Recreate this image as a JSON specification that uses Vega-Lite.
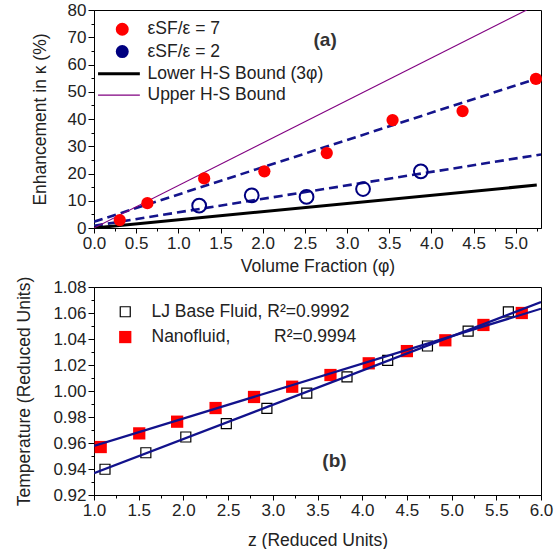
{
  "$schema": "https://vega.github.io/schema/vega-lite/v6.json",
  "padding": {"left": 15, "top": 0, "right": 5, "bottom": 0},
  "spacing": 0,
  "resolve": {
    "scale": {"color": "independent", "fill": "independent", "size": "independent", "strokeWidth": "independent"},
    "legend": {"color": "independent"}
  },
  "config": {
    "font": "Liberation Sans",
    "view": {"stroke": "#000000", "strokeWidth": 1},
    "axis": {
      "grid": false,
      "domainColor": "#000000",
      "tickColor": "#000000",
      "labelColor": "#222222",
      "titleColor": "#222222",
      "labelFont": "Liberation Sans",
      "titleFont": "Liberation Sans",
      "labelFontSize": 17,
      "titleFontSize": 17.5,
      "titleFontWeight": "normal",
      "labelFlush": false,
      "labelOverlap": false,
      "labelPadding": 2
    },
    "legend": {
      "labelFont": "Liberation Sans",
      "labelFontSize": 17.5,
      "labelColor": "#222222",
      "labelLimit": 0,
      "padding": 0
    }
  },
  "datasets": {
    "fitsA": [
      {"fit": "e7", "x": 0, "y": 2.3},
      {"fit": "e7", "x": 5.3, "y": 55.3},
      {"fit": "e2", "x": 0, "y": 0.8},
      {"fit": "e2", "x": 5.3, "y": 27.0}
    ],
    "bounds": [
      {"series": "Lower H-S Bound (3φ)", "x": 0, "y": 0},
      {"series": "Lower H-S Bound (3φ)", "x": 5.25, "y": 15.75},
      {"series": "Upper H-S Bound", "x": 0, "y": 0},
      {"series": "Upper H-S Bound", "x": 5.13, "y": 80}
    ],
    "e7": [
      {"series": "εSF/ε = 7", "x": 0.305, "y": 2.9},
      {"series": "εSF/ε = 7", "x": 0.633, "y": 9.1},
      {"series": "εSF/ε = 7", "x": 1.306, "y": 18.2},
      {"series": "εSF/ε = 7", "x": 2.02, "y": 20.8},
      {"series": "εSF/ε = 7", "x": 2.76, "y": 27.5},
      {"series": "εSF/ε = 7", "x": 3.54, "y": 39.6},
      {"series": "εSF/ε = 7", "x": 4.37, "y": 42.9},
      {"series": "εSF/ε = 7", "x": 5.24, "y": 54.7}
    ],
    "e2": [
      {"series": "εSF/ε = 2", "x": 1.247, "y": 8.2},
      {"series": "εSF/ε = 2", "x": 1.87, "y": 12.0},
      {"series": "εSF/ε = 2", "x": 2.52, "y": 11.4},
      {"series": "εSF/ε = 2", "x": 3.19, "y": 14.3},
      {"series": "εSF/ε = 2", "x": 3.875, "y": 20.8}
    ],
    "fitsB": [
      {"fit": "nano", "x": 1.0, "y": 0.9577},
      {"fit": "nano", "x": 6.0, "y": 1.0633},
      {"fit": "lj", "x": 1.0, "y": 0.9367},
      {"fit": "lj", "x": 6.0, "y": 1.0684}
    ],
    "pointsB": [
      {"series": "LJ Base Fluid, R²=0.9992", "x": 1.123, "y": 0.9398},
      {"series": "LJ Base Fluid, R²=0.9992", "x": 1.58, "y": 0.9525},
      {"series": "LJ Base Fluid, R²=0.9992", "x": 2.027, "y": 0.9646},
      {"series": "LJ Base Fluid, R²=0.9992", "x": 2.48, "y": 0.9749},
      {"series": "LJ Base Fluid, R²=0.9992", "x": 2.934, "y": 0.9867},
      {"series": "LJ Base Fluid, R²=0.9992", "x": 3.38, "y": 0.9984},
      {"series": "LJ Base Fluid, R²=0.9992", "x": 3.83, "y": 1.0108},
      {"series": "LJ Base Fluid, R²=0.9992", "x": 4.285, "y": 1.0236},
      {"series": "LJ Base Fluid, R²=0.9992", "x": 4.73, "y": 1.0346},
      {"series": "LJ Base Fluid, R²=0.9992", "x": 5.185, "y": 1.0461},
      {"series": "LJ Base Fluid, R²=0.9992", "x": 5.635, "y": 1.0608},
      {"series": "Nanofluid,\u00a0\u00a0\u00a0\u00a0\u00a0\u00a0\u00a0\u00a0\u00a0R²=0.9994", "x": 1.075, "y": 0.9569},
      {"series": "Nanofluid,\u00a0\u00a0\u00a0\u00a0\u00a0\u00a0\u00a0\u00a0\u00a0R²=0.9994", "x": 1.506, "y": 0.9674},
      {"series": "Nanofluid,\u00a0\u00a0\u00a0\u00a0\u00a0\u00a0\u00a0\u00a0\u00a0R²=0.9994", "x": 1.93, "y": 0.9764},
      {"series": "Nanofluid,\u00a0\u00a0\u00a0\u00a0\u00a0\u00a0\u00a0\u00a0\u00a0R²=0.9994", "x": 2.36, "y": 0.9869},
      {"series": "Nanofluid,\u00a0\u00a0\u00a0\u00a0\u00a0\u00a0\u00a0\u00a0\u00a0R²=0.9994", "x": 2.79, "y": 0.9954},
      {"series": "Nanofluid,\u00a0\u00a0\u00a0\u00a0\u00a0\u00a0\u00a0\u00a0\u00a0R²=0.9994", "x": 3.217, "y": 1.0033},
      {"series": "Nanofluid,\u00a0\u00a0\u00a0\u00a0\u00a0\u00a0\u00a0\u00a0\u00a0R²=0.9994", "x": 3.645, "y": 1.0123},
      {"series": "Nanofluid,\u00a0\u00a0\u00a0\u00a0\u00a0\u00a0\u00a0\u00a0\u00a0R²=0.9994", "x": 4.073, "y": 1.0213},
      {"series": "Nanofluid,\u00a0\u00a0\u00a0\u00a0\u00a0\u00a0\u00a0\u00a0\u00a0R²=0.9994", "x": 4.50, "y": 1.0307},
      {"series": "Nanofluid,\u00a0\u00a0\u00a0\u00a0\u00a0\u00a0\u00a0\u00a0\u00a0R²=0.9994", "x": 4.93, "y": 1.039},
      {"series": "Nanofluid,\u00a0\u00a0\u00a0\u00a0\u00a0\u00a0\u00a0\u00a0\u00a0R²=0.9994", "x": 5.356, "y": 1.0508},
      {"series": "Nanofluid,\u00a0\u00a0\u00a0\u00a0\u00a0\u00a0\u00a0\u00a0\u00a0R²=0.9994", "x": 5.785, "y": 1.06}
    ]
  },
  "vconcat": [
    {
      "width": 447,
      "height": 218,
      "resolve": {"axis": {"x": "independent", "y": "independent"}},
      "layer": [
        {
          "data": {"name": "fitsA"},
          "mark": {"type": "line", "strokeDash": [9, 5], "strokeWidth": 2.6, "color": "#14148c", "clip": true},
          "encoding": {
            "x": {"field": "x", "type": "quantitative", "title": "Volume Fraction (φ)",
              "scale": {"domain": [0, 5.3], "nice": false, "zero": false},
              "axis": {
                "orient": "bottom",
                "values": [0, 0.5, 1, 1.5, 2, 2.5, 3, 3.5, 4, 4.5, 5],
                "format": ".1f",
                "tickSize": 5,
                "labelOverlap": false,
                "titlePadding": 6
              }},
            "y": {"field": "y", "type": "quantitative", "title": "Enhancement in κ (%)",
              "scale": {"domain": [0, 80], "nice": false},
              "axis": {
                "orient": "left",
                "values": [0, 10, 20, 30, 40, 50, 60, 70, 80],
                "format": "d",
                "tickSize": 6,
                "labelOverlap": false,
                "titlePadding": 18
              }},
            "detail": {"field": "fit"}
          }
        },
        {
          "data": {"name": "bounds"},
          "mark": {"type": "line", "clip": true},
          "encoding": {
            "x": {"field": "x", "type": "quantitative", "title": null,
              "axis": {"orient": "bottom", "values": [0.25, 0.75, 1.25, 1.75, 2.25, 2.75, 3.25, 3.75, 4.25, 4.75, 5.25], "labels": false, "domain": false, "tickSize": 3, "title": null}},
            "y": {"field": "y", "type": "quantitative", "title": null,
              "axis": {"orient": "left", "values": [5, 15, 25, 35, 45, 55, 65, 75], "labels": false, "domain": false, "tickSize": 3, "title": null}},
            "color": {"field": "series", "type": "nominal",
              "scale": {"domain": ["εSF/ε = 7", "εSF/ε = 2", "Lower H-S Bound (3φ)", "Upper H-S Bound"],
                        "range": ["#ff0000", "#000080", "#000000", "#800080"]},
              "legend": {
                "title": null,
                "orient": "none",
                "legendX": 19.5,
                "legendY": 10.5,
                "symbolSize": 121,
                "labelOffset": 16.5,
                "rowPadding": 2.3,
                "encode": {
                  "symbols": {
                    "update": {
                      "shape": {"signal": "indexof(datum.value,'Bound')>=0 ? 'M-4.4,0H3.2' : 'circle'"},
                      "fill": {"signal": "datum.value=='εSF/ε = 7' ? '#ff0000' : 'transparent'"},
                      "stroke": {"signal": "datum.value=='εSF/ε = 7' ? 'transparent' : datum.value=='εSF/ε = 2' ? '#000080' : datum.value=='Upper H-S Bound' ? '#800080' : '#000000'"},
                      "strokeWidth": {"signal": "datum.value=='Lower H-S Bound (3φ)' ? 3 : datum.value=='Upper H-S Bound' ? 1.1 : 2"},
                      "opacity": {"value": 1}
                    }
                  }
                }
              }},
            "strokeWidth": {"field": "series", "type": "nominal",
              "scale": {"domain": ["Lower H-S Bound (3φ)", "Upper H-S Bound"], "range": [3, 1.1]},
              "legend": null}
          }
        },
        {
          "data": {"name": "e7"},
          "mark": {"type": "point", "filled": true, "shape": "circle", "size": 150, "opacity": 1},
          "encoding": {
            "x": {"field": "x", "type": "quantitative", "axis": null},
            "y": {"field": "y", "type": "quantitative", "axis": null},
            "color": {"field": "series", "type": "nominal"}
          }
        },
        {
          "data": {"name": "e2"},
          "mark": {"type": "point", "filled": false, "shape": "circle", "size": 190, "strokeWidth": 2, "opacity": 1},
          "encoding": {
            "x": {"field": "x", "type": "quantitative", "axis": null},
            "y": {"field": "y", "type": "quantitative", "axis": null},
            "color": {"field": "series", "type": "nominal"}
          }
        },
        {
          "data": {"values": [{}]},
          "mark": {"type": "text", "text": "(a)", "fontSize": 19, "fontWeight": "bold", "color": "#333333", "font": "Liberation Sans"},
          "encoding": {
            "x": {"datum": 2.74, "type": "quantitative", "axis": null},
            "y": {"datum": 69, "type": "quantitative", "axis": null}
          }
        }
      ]
    },
    {
      "width": 447,
      "height": 208,
      "resolve": {"axis": {"x": "independent", "y": "independent"}},
      "layer": [
        {
          "data": {"name": "pointsB"},
          "mark": {"type": "point", "shape": "square", "opacity": 1},
          "encoding": {
            "x": {"field": "x", "type": "quantitative", "title": "z (Reduced Units)",
              "scale": {"domain": [1, 6], "nice": false, "zero": false},
              "axis": {
                "orient": "bottom",
                "values": [1, 1.5, 2, 2.5, 3, 3.5, 4, 4.5, 5, 5.5, 6],
                "format": ".1f",
                "tickSize": 5,
                "labelOverlap": false,
                "titlePadding": 13
              }},
            "y": {"field": "y", "type": "quantitative", "title": "Temperature (Reduced Units)",
              "scale": {"domain": [0.92, 1.08], "nice": false, "zero": false},
              "axis": {
                "orient": "left",
                "values": [0.92, 0.94, 0.96, 0.98, 1.0, 1.02, 1.04, 1.06, 1.08],
                "format": ".2f",
                "tickSize": 6,
                "labelOverlap": false,
                "titlePadding": 19
              }},
            "color": {"field": "series", "type": "nominal",
              "scale": {"domain": ["LJ Base Fluid, R²=0.9992", "Nanofluid,\u00a0\u00a0\u00a0\u00a0\u00a0\u00a0\u00a0\u00a0\u00a0R²=0.9994"], "range": ["#000000", "#ff0000"]},
              "legend": {
                "title": null,
                "orient": "none",
                "legendX": 22.5,
                "legendY": 16,
                "symbolSize": 121,
                "labelOffset": 17.5,
                "rowPadding": 6.3,
                "encode": {
                  "symbols": {
                    "update": {
                      "shape": {"value": "square"},
                      "size": {"signal": "indexof(datum.value,'Nano')>=0 ? 100 : 81"},
                      "fill": {"signal": "indexof(datum.value,'Nano')>=0 ? '#ff0000' : 'transparent'"},
                      "stroke": {"signal": "indexof(datum.value,'Nano')>=0 ? 'transparent' : '#000000'"},
                      "strokeWidth": {"value": 1.2},
                      "opacity": {"value": 1}
                    }
                  }
                }
              }},
            "fill": {"field": "series", "type": "nominal",
              "scale": {"domain": ["LJ Base Fluid, R²=0.9992", "Nanofluid,\u00a0\u00a0\u00a0\u00a0\u00a0\u00a0\u00a0\u00a0\u00a0R²=0.9994"], "range": ["transparent", "#ff0000"]},
              "legend": null},
            "size": {"field": "series", "type": "nominal",
              "scale": {"domain": ["LJ Base Fluid, R²=0.9992", "Nanofluid,\u00a0\u00a0\u00a0\u00a0\u00a0\u00a0\u00a0\u00a0\u00a0R²=0.9994"], "range": [100, 150]},
              "legend": null},
            "strokeWidth": {"field": "series", "type": "nominal",
              "scale": {"domain": ["LJ Base Fluid, R²=0.9992", "Nanofluid,\u00a0\u00a0\u00a0\u00a0\u00a0\u00a0\u00a0\u00a0\u00a0R²=0.9994"], "range": [1.2, 0]},
              "legend": null}
          }
        },
        {
          "data": {"name": "fitsB"},
          "mark": {"type": "line", "strokeWidth": 2.2, "color": "#12128c", "clip": true},
          "encoding": {
            "x": {"field": "x", "type": "quantitative", "title": null,
              "axis": {"orient": "bottom", "values": [1.25, 1.75, 2.25, 2.75, 3.25, 3.75, 4.25, 4.75, 5.25, 5.75], "labels": false, "domain": false, "tickSize": 3, "title": null}},
            "y": {"field": "y", "type": "quantitative", "title": null,
              "axis": {"orient": "left", "values": [0.93, 0.95, 0.97, 0.99, 1.01, 1.03, 1.05, 1.07], "labels": false, "domain": false, "tickSize": 3, "title": null}},
            "detail": {"field": "fit"}
          }
        },
        {
          "data": {"values": [{}]},
          "mark": {"type": "text", "text": "(b)", "fontSize": 19, "fontWeight": "bold", "color": "#333333", "font": "Liberation Sans"},
          "encoding": {
            "x": {"datum": 3.69, "type": "quantitative", "axis": null},
            "y": {"datum": 0.946, "type": "quantitative", "axis": null}
          }
        }
      ]
    }
  ]
}
